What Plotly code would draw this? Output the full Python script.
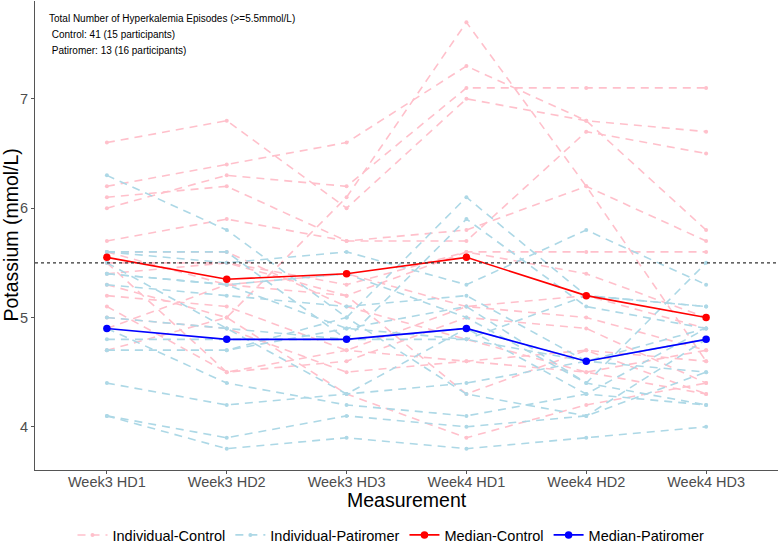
import plotly.graph_objects as go

measurements = ["Week3 HD1", "Week3 HD2", "Week3 HD3", "Week4 HD1", "Week4 HD2", "Week4 HD3"]

control_individual = [
    [4.7, 5.0, 6.1, 7.7, 6.2, 4.6],
    [6.6, 6.8, 6.0, 7.0, 6.8, 6.7],
    [6.2, 6.4, 6.6, 7.3, 6.8, 5.8],
    [6.0, 6.3, 6.2, 7.1, 7.1, 7.1],
    [6.1, 6.2, 5.7, 5.7, 6.7, 6.5],
    [5.7, 5.9, 5.7, 5.8, 6.2, 5.7],
    [5.5, 5.5, 5.3, 5.6, 5.6, 5.6],
    [5.6, 5.3, 5.2, 5.6, 5.4, 5.0],
    [5.5, 4.5, 4.6, 5.0, 4.9, 4.4],
    [5.1, 4.5, 4.7, 4.6, 4.7, 4.3],
    [5.0, 4.9, 4.5, 4.6, 4.5, 4.7],
    [5.3, 5.0, 4.3, 3.9, 4.2, 4.4],
    [4.9, 5.3, 5.4, 5.1, 5.0, 4.7],
    [5.4, 5.5, 5.2, 4.3, 4.7, 4.6],
    [5.6, 5.6, 5.1, 4.8, 4.5, 4.3],
    [5.2, 5.1, 4.7, 5.1, 5.2, 4.9],
]

patiromer_individual = [
    [6.3, 5.8, 5.0, 6.1, 5.2, 5.1],
    [5.6, 5.6, 4.8, 5.9, 5.1, 4.9],
    [5.6, 5.5, 5.6, 5.3, 5.8, 5.3],
    [5.4, 5.3, 5.4, 5.0, 4.4, 5.5],
    [5.3, 5.2, 5.1, 5.2, 4.6, 4.8],
    [5.0, 4.9, 4.8, 4.8, 4.6, 4.5],
    [4.8, 4.8, 4.8, 4.9, 4.3, 4.9],
    [4.7, 4.7, 4.9, 5.1, 4.4, 4.2],
    [4.4, 4.2, 4.3, 4.4, 4.6, 4.9],
    [4.1, 3.9, 4.1, 4.0, 4.1, 4.5],
    [4.1, 3.8, 3.9, 3.8, 3.9, 4.0],
    [4.9, 4.4, 4.2, 4.1, 4.3, 4.2],
    [4.7, 4.7, 5.0, 4.3, 4.1, 4.8],
    [5.4, 5.3, 4.9, 4.8, 5.2, 5.1],
    [5.5, 4.9, 4.3, 4.9, 4.6, 4.8],
]

median_control = [5.55, 5.35, 5.4, 5.55, 5.2, 5.0]
median_patiromer = [4.9, 4.8, 4.8, 4.9, 4.6, 4.8]

threshold = 5.5
y_ticks = [4, 5, 6, 7]

annotation_lines = [
    "Total Number of Hyperkalemia Episodes (>=5.5mmol/L)",
    "&nbsp;Control: 41 (15 participants)",
    "&nbsp;Patiromer: 13 (16 participants)",
]

PINK = "#FFC0CB"
LBLUE = "#ADD8E6"
FONT = "Liberation Sans, Arial, sans-serif"

W, H = 782, 545
ML, MR, MT, MB = 35, 4, 1, 75
plot_w = W - ML - MR
plot_h = H - MT - MB

fig = go.Figure()

for i, vals in enumerate(control_individual):
    fig.add_trace(go.Scatter(
        x=measurements, y=vals, mode="lines+markers",
        line=dict(color=PINK, width=1.6, dash="8px,6px"),
        marker=dict(color=PINK, size=4),
        name="Individual-Control", legendgroup="ic",
        showlegend=(i == 0), legendrank=1))

for i, vals in enumerate(patiromer_individual):
    fig.add_trace(go.Scatter(
        x=measurements, y=vals, mode="lines+markers",
        line=dict(color=LBLUE, width=1.6, dash="8px,6px"),
        marker=dict(color=LBLUE, size=4),
        name="Individual-Patiromer", legendgroup="ip",
        showlegend=(i == 0), legendrank=2))

fig.add_trace(go.Scatter(
    x=measurements, y=median_control, mode="lines+markers",
    line=dict(color="#FF0000", width=1.6),
    marker=dict(color="#FF0000", size=7.5),
    name="Median-Control", legendrank=3))

fig.add_trace(go.Scatter(
    x=measurements, y=median_patiromer, mode="lines+markers",
    line=dict(color="#0000FF", width=1.6),
    marker=dict(color="#0000FF", size=7.5),
    name="Median-Patiromer", legendrank=4))

fig.add_shape(type="line", xref="paper", x0=0, x1=1, yref="y", y0=threshold, y1=threshold,
              line=dict(color="#333333", width=1.1, dash="dot"))

for k, txt in enumerate(annotation_lines):
    fig.add_annotation(
        xref="paper", yref="paper",
        x=12 / plot_w, y=1 - (19 + 15.7 * k - MT) / plot_h,
        xanchor="left", yanchor="middle", align="left", showarrow=False,
        text=txt, font=dict(family=FONT, size=10, color="#000000"))

# axis titles
fig.add_annotation(
    xref="paper", yref="paper", x=0.5, y=-30 / plot_h,
    xanchor="center", yanchor="middle", showarrow=False,
    text="Measurement", font=dict(family=FONT, size=19.5, color="#000000"))
fig.add_annotation(
    xref="paper", yref="paper", x=-25 / plot_w, y=0.5,
    xanchor="center", yanchor="middle", showarrow=False, textangle=-90,
    text="Potassium (mmol/L)", font=dict(family=FONT, size=19.5, color="#000000"))

fig.update_layout(
    width=W, height=H,
    margin=dict(l=ML, r=MR, t=MT, b=MB),
    plot_bgcolor="white", paper_bgcolor="white",
    font=dict(family=FONT, color="#4d4d4d"),
    showlegend=True,
    legend=dict(orientation="h", xref="container", x=0.5, xanchor="center",
                yref="container", y=26 / H, yanchor="top",
                font=dict(size=14.5, color="#000000"), itemwidth=30,
                tracegroupgap=0),
    xaxis=dict(
        type="category", range=[-0.6, 5.6], automargin=False,
        showline=True, linecolor="#555555", linewidth=1.1,
        ticks="outside", ticklen=3, tickcolor="#555555",
        ticklabelstandoff=-4,
        tickfont=dict(size=14.5, color="#4d4d4d"),
        showgrid=False, zeroline=False),
    yaxis=dict(
        range=[3.605, 7.895], tickvals=y_ticks, automargin=False,
        showline=True, linecolor="#555555", linewidth=1.1,
        ticks="outside", ticklen=3, tickcolor="#555555",
        tickfont=dict(size=14.5, color="#4d4d4d"),
        showgrid=False, zeroline=False),
)

fig.write_html("out.html", config={"displayModeBar": False},
               post_script="document.body.style.margin='0px';")
